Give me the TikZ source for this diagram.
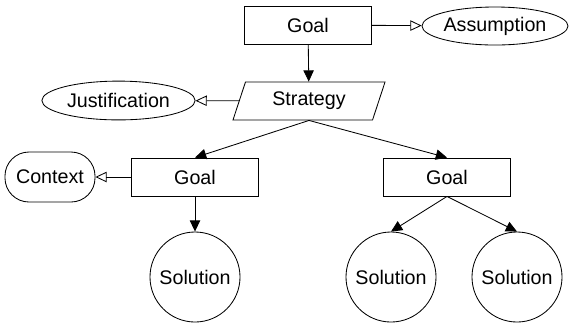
\documentclass[tikz,border=0pt]{standalone}
\usepackage{fontspec}
\setmainfont{Liberation Sans}
\usetikzlibrary{shapes.geometric, arrows.meta}
\tikzset{
goalbox/.style={draw, rectangle, minimum width=3.175cm, minimum height=0.95cm, inner sep=0pt},
stratbox/.style={draw, trapezium, trapezium left angle=55, trapezium right angle=125,
  trapezium stretches body, minimum width=3.8cm, minimum height=0.95cm, inner sep=0pt},
oval/.style={draw, ellipse, inner sep=0pt},
ctxbox/.style={draw, rectangle, rounded corners=0.6cm, minimum width=2.25cm, minimum height=1.25cm, inner sep=0pt},
solcircle/.style={draw, circle, minimum size=2.25cm, inner sep=0pt},
supports/.style={-{Triangle[length=2.8mm, width=2.6mm]}},
incontext/.style={-{Triangle[open, length=2.8mm, width=2.6mm]}}
}

\begin{document}
\begin{tikzpicture}[x=0.025cm, y=-0.025cm, font=\fontsize{14}{17}\selectfont, line width=0.6pt]
  \useasboundingbox (0,0) rectangle (570,325);
  % top level
  \node[goalbox] (g1) at (308,25) {Goal};
  \node[oval, minimum width=3.65cm, minimum height=0.95cm] (a1) at (495,26) {Assumption};
  \node[stratbox] (s1) at (309,101) {Strategy};
  \node[oval, minimum width=3.83cm, minimum height=0.97cm] (j1) at (118.5,100.5) {Justification};
  % second level
  \node[goalbox] (g2) at (195,177) {Goal};
  \node[goalbox] (g3) at (447,177) {Goal};
  \node[ctxbox] (c1) at (50,177) {Context};
  % solutions
  \node[solcircle] (sn1) at (195,277) {Solution};
  \node[solcircle] (sn2) at (391,277) {Solution};
  \node[solcircle] (sn3) at (517,277) {Solution};

  \draw[incontext] (g1) -- (a1);
  \draw[supports] (g1) -- (s1);
  \draw[incontext] (s1) -- (j1);
  \draw[supports] (s1.south) -- (g2.north);
  \draw[supports] (s1.south) -- (g3.north);
  \draw[incontext] (g2) -- (c1);
  \draw[supports] (g2) -- (sn1);
  \draw[supports] (g3.south) -- (sn2.north);
  \draw[supports] (g3.south) -- (sn3.north);
\end{tikzpicture}
\end{document}
